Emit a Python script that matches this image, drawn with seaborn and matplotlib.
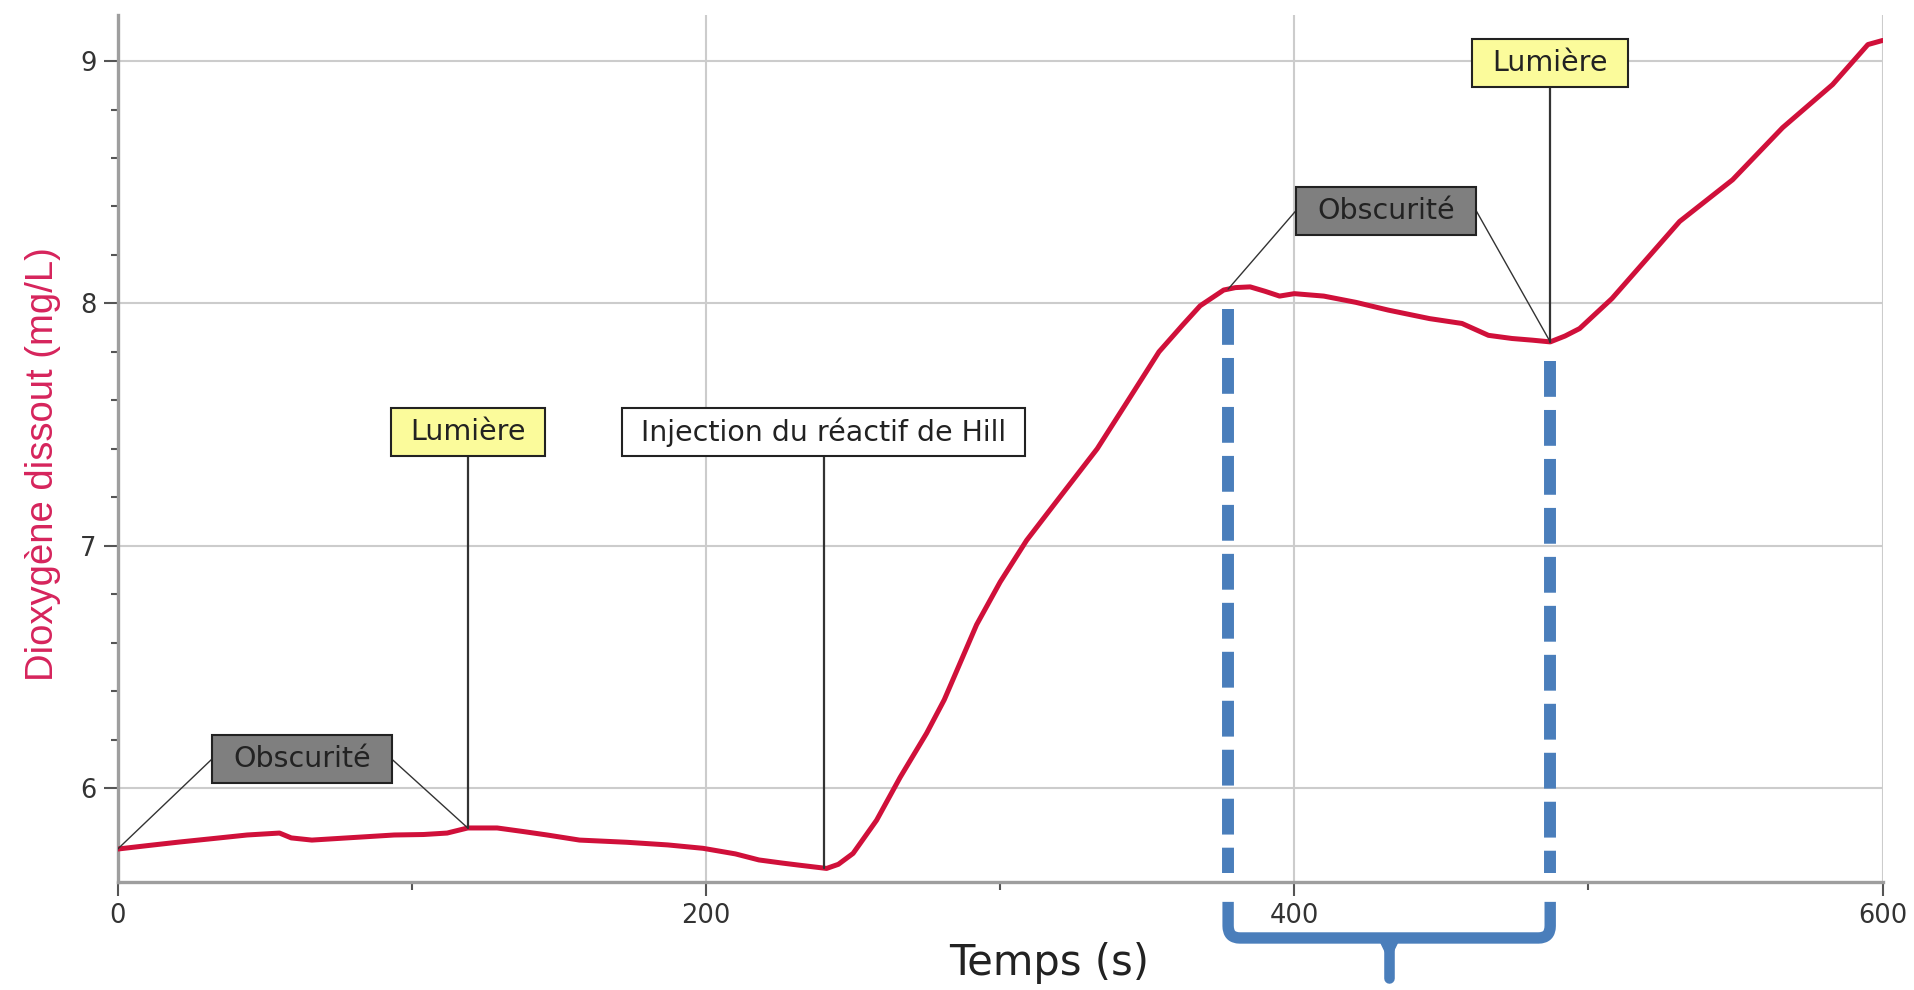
import numpy as np
import pandas as pd
import seaborn as sns
import matplotlib.pyplot as plt
from matplotlib.patches import Rectangle, PathPatch, Polygon
from matplotlib.path import Path

temps = [0, 10, 21, 33, 44, 55, 59, 66, 78, 94, 104, 112, 119, 129, 138, 146,
         157, 173, 187, 199, 210, 218, 226, 232, 241, 245, 250, 258, 266, 275,
         281, 292, 300, 309, 319, 333, 343, 354, 362, 368, 376, 380, 385, 390,
         395, 400, 410, 421, 432, 446, 457, 466, 474, 481, 487, 492, 497, 508,
         519, 531, 549, 566, 583, 595, 600]
oxygene = [5.748, 5.762, 5.777, 5.792, 5.806, 5.814, 5.794, 5.785, 5.794, 5.806,
           5.808, 5.814, 5.835, 5.835, 5.820, 5.806, 5.785, 5.776, 5.765, 5.751,
           5.728, 5.703, 5.690, 5.681, 5.668, 5.685, 5.730, 5.867, 6.044, 6.226,
           6.364, 6.674, 6.850, 7.022, 7.180, 7.400, 7.590, 7.800, 7.910, 7.990,
           8.055, 8.065, 8.068, 8.050, 8.030, 8.040, 8.030, 8.004, 7.972, 7.937,
           7.917, 7.868, 7.855, 7.848, 7.841, 7.865, 7.896, 8.020, 8.172, 8.338,
           8.510, 8.725, 8.903, 9.068, 9.085]

# evenements
debut_obscurite = [0, 377.5]
fin_obscurite = [119, 487]       # = allumage de la lumiere
t_injection = 240
x_ticks = [0, 200, 400, 600]
y_ticks = [6, 7, 8, 9]

RED = '#d0103a'
BLUE = '#4a7ebb'

sns.set_style("ticks")
plt.rcParams['font.family'] = ['DejaVu Sans']

df = pd.DataFrame({'t': temps, 'o2': oxygene})
fig = plt.figure(figsize=(19.15, 9.9), dpi=100)
ax = fig.add_axes([0.06146, 0.10909, 0.92162, 0.87576])

sns.lineplot(data=df, x='t', y='o2', ax=ax, color=RED, lw=3.6, zorder=3)
ax.set(xlim=(0, 600), ylim=(5.612, 9.19))

def o2(t):
    return np.interp(t, temps, oxygene)

# axes look
for s in ['top', 'right']:
    ax.spines[s].set_visible(False)
for s in ['left', 'bottom']:
    ax.spines[s].set_color('#9e9e9e')
    ax.spines[s].set_linewidth(2.4)
ax.set_xticks(x_ticks)
ax.set_xticks([100, 300, 500], minor=True)
ax.set_yticks(y_ticks)
ax.set_yticks([v for v in np.arange(6.2, 9.0, 0.2) if abs(v - round(v)) > 0.05], minor=True)
ax.set_xticklabels([str(v) for v in x_ticks])
ax.set_yticklabels([str(v) for v in y_ticks])
ax.tick_params(which='both', bottom=True, left=True, top=False, right=False,
               direction='out')
ax.tick_params(which='major', length=10, width=1.5, color='#555555',
               labelsize=18.5, labelcolor='#333333')
ax.tick_params(axis='x', which='major', pad=5)
ax.tick_params(axis='y', which='major', pad=5)
ax.tick_params(axis='x', which='minor', length=6, width=1.5, color='#555555')
ax.tick_params(axis='y', which='minor', length=5, width=1.5, color='#555555')
ax.grid(True, which='major', color='#cccccc', lw=1.5, zorder=0)

ax.set_xlabel('Temps (s)', fontsize=30, color='#222222')
ax.xaxis.set_label_coords(0.528, -0.093)
ax.xaxis.label.set_va('center')
ax.set_ylabel('Dioxygène dissout (mg/L)', fontsize=27.5, family=['Liberation Sans'],
              color='#d6245c')
ax.yaxis.set_label_coords(-0.0425, 0.482)
ax.yaxis.label.set_va('center')

# annotation boxes: (texte, centre x, centre y, largeur, couleur)
BOX_H = 0.198
boxes = [
    ('Obscurité', 62.6, 6.12, 61, '#7f7f7f'),
    ('Lumière', fin_obscurite[0], 7.47, 52.5, '#fbfb9b'),
    ('Injection du réactif de Hill', t_injection, 7.47, 137, '#ffffff'),
    ('Obscurité', 431.2, 8.383, 61.2, '#7f7f7f'),
    ('Lumière', fin_obscurite[1], 8.992, 53, '#fbfb9b'),
]
for txt, cx, cy, w, fc in boxes:
    ax.add_patch(Rectangle((cx - w / 2, cy - BOX_H / 2), w, BOX_H, facecolor=fc,
                           edgecolor='#222222', lw=1.5, zorder=6))
    ax.text(cx, cy, txt, ha='center', va='center', fontsize=20.5, color='#222222',
            zorder=7)

# connecting lines
thin = dict(color='#333333', lw=1.0, zorder=4)
for i, (txt, cx, cy, w, fc) in enumerate(boxes):
    if txt == 'Obscurité':
        k = 0 if i == 0 else 1
        ax.plot([cx - w / 2, debut_obscurite[k]], [cy, o2(debut_obscurite[k])], **thin)
        ax.plot([cx + w / 2, fin_obscurite[k]], [cy, o2(fin_obscurite[k])], **thin)
    else:
        ax.plot([cx, cx], [cy - BOX_H / 2, o2(cx)], color='#333333', lw=1.6, zorder=4)

# blue dashed markers on the second dark period
for t in [debut_obscurite[1], fin_obscurite[1]]:
    ax.plot([t, t], [o2(t) - 0.08, 5.65], color=BLUE, lw=8.6,
            linestyle=(0, (3.0, 1.1)), dash_capstyle='butt', zorder=5)

# brace under the axis
xl, xr = debut_obscurite[1], fin_obscurite[1]
ytop, ybar, ybot = 5.53, 5.381, 5.215
rx, ry = 4.0, 0.05
verts = [(xl, ytop), (xl, ybar + ry), (xl, ybar), (xl + rx, ybar),
         (xr - rx, ybar), (xr, ybar), (xr, ybar + ry), (xr, ytop)]
codes = [Path.MOVETO, Path.LINETO, Path.CURVE3, Path.CURVE3,
         Path.LINETO, Path.CURVE3, Path.CURVE3, Path.LINETO]
ax.add_patch(PathPatch(Path(verts, codes), fill=False, edgecolor=BLUE, lw=8.2,
                       capstyle='butt', joinstyle='round', clip_on=False, zorder=5))
xm = (xl + xr) / 2
ax.plot([xm, xm], [ybar, ybot], color=BLUE, lw=7.6, solid_capstyle='round',
        clip_on=False, zorder=5)
ax.add_patch(Polygon([(xm - 3.6, ybar), (xm + 3.6, ybar), (xm, ybar - 0.09)],
                     closed=True, color=BLUE, clip_on=False, zorder=5))

fig.savefig('out.png', dpi=100)
